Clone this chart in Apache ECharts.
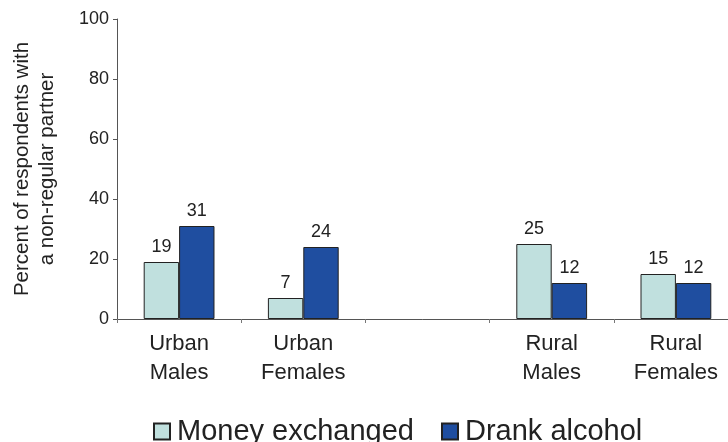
<!DOCTYPE html>
<html>
<head>
<meta charset="utf-8">
<script src="https://cdn.jsdelivr.net/npm/echarts@6/dist/echarts.min.js"></script>
<style>html,body{margin:0;padding:0;background:#fff}#c{width:728px;height:442px}</style>
</head>
<body>
<div id="c"></div>
<script>
var categories = ['Urban\nMales', 'Urban\nFemales', '', 'Rural\nMales', 'Rural\nFemales'];
var moneyExchanged = [19, 7, '-', 25, 15];
var drankAlcohol = [31, 24, '-', 12, 12];
var yTicks = [0, 20, 40, 60, 80, 100];
var seriesNames = ['Money exchanged', 'Drank alcohol'];
var yAxisTitle = 'Percent of respondents with\na non-regular partner';

var FONT = 'Liberation Sans, Arial, Helvetica, sans-serif';
var chart = echarts.init(document.getElementById('c'), null, {renderer: 'canvas'});
var labelCfg = {show: true, position: 'top', distance: 6, color: '#222', fontSize: 18, fontFamily: FONT};
chart.setOption({
  animation: false,
  backgroundColor: '#fff',
  grid: {left: 117, top: 19, bottom: 123, width: 621, containLabel: false, outerBoundsMode: 'none'},
  legend: {
    left: 148, top: 412, itemWidth: 16, itemHeight: 16, itemGap: 27,
    icon: 'rect',
    textStyle: {fontSize: 29, color: '#222', fontFamily: FONT, padding: [0, 0, 0, 2]},
    data: seriesNames
  },
  xAxis: {
    type: 'category', data: categories,
    axisLine: {lineStyle: {color: '#555', width: 1}},
    axisTick: {show: true, length: 4, lineStyle: {color: '#777'}},
    axisLabel: {color: '#222', fontSize: 22, lineHeight: 29, margin: 10, fontFamily: FONT, interval: 0}
  },
  yAxis: {
    type: 'value', min: yTicks[0], max: yTicks[yTicks.length - 1], interval: 20,
    name: yAxisTitle, nameLocation: 'middle', nameRotate: 90, nameGap: 57,
    nameTextStyle: {fontSize: 20.5, lineHeight: 25, color: '#222', fontFamily: FONT},
    axisLine: {show: true, lineStyle: {color: '#555', width: 1}},
    axisTick: {show: true, length: 4, lineStyle: {color: '#555'}},
    splitLine: {show: false},
    axisLabel: {color: '#222', fontSize: 18, margin: 8, fontFamily: FONT}
  },
  series: [
    {name: seriesNames[0], type: 'bar', data: moneyExchanged, barCategoryGap: '43%', barGap: '0%',
     itemStyle: {color: '#c0e0de', borderColor: '#222', borderWidth: 1}, label: labelCfg},
    {name: seriesNames[1], type: 'bar', data: drankAlcohol, barCategoryGap: '43%', barGap: '0%',
     itemStyle: {color: '#1f4ea0', borderColor: '#222', borderWidth: 1}, label: labelCfg}
  ]
});
</script>
</body>
</html>
